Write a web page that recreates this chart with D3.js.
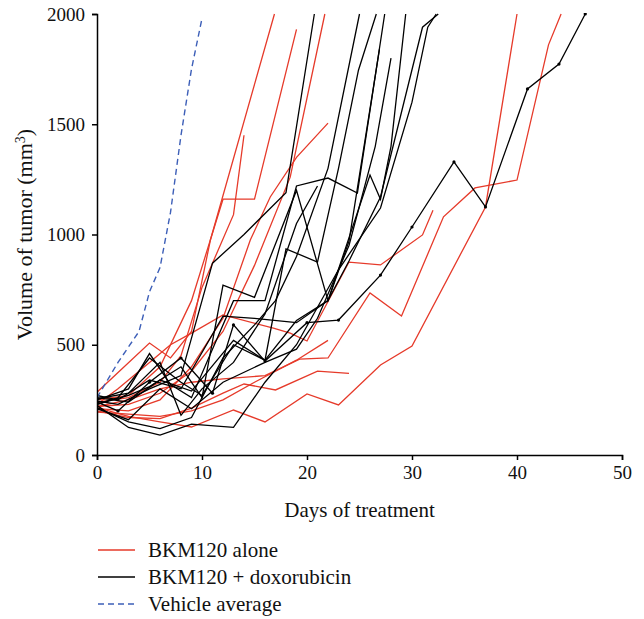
<!DOCTYPE html>
<html>
<head>
<meta charset="utf-8">
<script src="https://cdn.jsdelivr.net/npm/d3@7"></script>
<style>
  body { margin: 0; background: #fff; }
  text { font-family: "Liberation Serif", "DejaVu Serif", serif; fill: #111; }
</style>
</head>
<body>
<div id="chart"></div>
<script>
// values: [day, volume mm3]
var redSeries = [
  [[0,230],[2,300],[5,420],[7,500],[9,553],[12,635],[16.8,575],[18.4,553],[20,517],[24,875],[27,862],[31,998],[32,1110]],
  [[0,220],[3,250],[6,300],[9,330],[12,345],[16,360],[19.3,435],[22,440],[26,735],[29,630],[33,1080],[36,1211],[40,1247],[43,1860],[44.2,2000]],
  [[0,200],[3,170],[6,165],[9,213],[12,281],[14,322],[17,295],[21,380],[24,370]],
  [[0,215],[3,175],[6,150],[9,127],[13,204],[16,150],[20,277],[23,227],[27,408],[30,494],[37,1125],[40,2000]],
  [[0,210],[3,200],[6,250],[9,400],[12,620],[14.6,975],[16.5,1170],[19,1350],[22,1505]],
  [[0,220],[3,230],[6,280],[9,380],[12,560],[15,860],[18.4,1260],[21.7,2000]],
  [[0,285],[5,508],[7,440],[9,560],[10.8,975],[16.9,2000]],
  [[0,250],[3,270],[6,400],[9,700],[12,1160],[15,1160],[19,1930]],
  [[0,240],[3,260],[6,330],[8,450],[10,760],[13,1090],[14,1450]],
  [[0,195],[3,185],[6,175],[9,200],[12,250],[15,330],[19,430],[22,520]]
];
var blackSeries = [
  [[0,245],[2,230],[5,300],[8,360],[10,700],[11,870],[14,1000],[18,1190],[20.7,2000]],
  [[0,215],[3,150],[6,120],[9,170],[12,440],[15,590],[17,700],[19,900],[22,1300],[25,2000]],
  [[0,230],[2,260],[5,440],[8,330],[10,270],[13,500],[16,430],[18,935],[21,875],[23,1300],[24.9,1745],[26.6,2000]],
  [[0,250],[3,300],[5,460],[7,320],[9,260],[13,700],[16,700],[19,1220],[22,1256],[24.8,1188],[27.4,2000]],
  [[0,260],[3,240],[6,340],[9,290],[13,520],[16,430],[19,610],[22,700],[26,1270],[27,1160],[28,1400],[29.4,2000]],
  [[0,240],[2,200],[5,330],[8,440],[11,280],[13,590],[16,426],[20,600],[23,612],[27,816],[30,1034],[34,1329],[37,1125],[41,1660],[44,1773],[46.5,2000]],
  [[0,225],[3,125],[6,90],[9,140],[13,125],[16,330],[19,500],[23,840],[27,1120],[30,1600],[31.5,1940],[32.3,2000]],
  [[0,230],[3,270],[5,310],[8,400],[10,260],[12,770],[15,715],[19,1200],[22,700],[24,970],[26.9,1840]],
  [[0,270],[2,250],[5,340],[8,300],[12,630],[15,620],[19,600],[22,700],[24,880],[27,1170],[31,1940],[32.5,2000]],
  [[0,210],[3,160],[6,300],[9,210],[12,330],[16,420],[19,480],[21,620],[24,950],[26.5,1400],[28,1800]],
  [[0,255],[3,280],[6,420],[8,180],[10,300],[13,420],[16,640],[19,1050],[21,1220]]
];
var vehicleAvg = [[0,260],[2,420],[4,560],[5,740],[6,850],[7,1100],[8,1450],[9,1750],[10,1980]];
var dotSeries = [5];            // black series drawn with point markers
var xTicks = [0, 10, 20, 30, 40, 50];
var yTicks = [0, 500, 1000, 1500, 2000];
var legendLabels = ["BKM120 alone", "BKM120 + doxorubicin", "Vehicle average"];

var width = 644, height = 619;
var margin = {left: 97, top: 14, right: 22, bottom: 164};

var svg = d3.select("#chart").append("svg")
  .attr("width", width)
  .attr("height", height);

var x = d3.scaleLinear().domain([0, 50]).range([margin.left, width - margin.right]);
var y = d3.scaleLinear().domain([0, 2000]).range([height - margin.bottom, margin.top]);

svg.append("clipPath").attr("id", "plot")
  .append("rect")
  .attr("x", margin.left).attr("y", margin.top - 1)
  .attr("width", width - margin.left - margin.right + 2)
  .attr("height", height - margin.top - margin.bottom + 1);

var line = d3.line()
  .x(function(d) { return x(d[0]); })
  .y(function(d) { return y(d[1]); });

var g = svg.append("g").attr("clip-path", "url(#plot)");

g.selectAll(".red").data(redSeries).enter().append("path")
  .attr("class", "red")
  .attr("d", line)
  .attr("fill", "none")
  .attr("stroke", "#e63a2a")
  .attr("stroke-width", 1.3);

g.selectAll(".black").data(blackSeries).enter().append("path")
  .attr("class", "black")
  .attr("d", line)
  .attr("fill", "none")
  .attr("stroke", "#000")
  .attr("stroke-width", 1.3);

dotSeries.forEach(function(i) {
  g.selectAll(".dot" + i).data(blackSeries[i]).enter().append("circle")
    .attr("cx", function(d) { return x(d[0]); })
    .attr("cy", function(d) { return y(d[1]); })
    .attr("r", 1.6)
    .attr("fill", "#000");
});

g.append("path")
  .datum(vehicleAvg)
  .attr("d", line)
  .attr("fill", "none")
  .attr("stroke", "#3d5fb8")
  .attr("stroke-width", 1.4)
  .attr("stroke-dasharray", "6,4");

// axes
var xAxis = svg.append("g")
  .attr("transform", "translate(0," + y(0) + ")")
  .call(d3.axisBottom(x).tickValues(xTicks).tickSize(5).tickPadding(6));
var yAxis = svg.append("g")
  .attr("transform", "translate(" + x(0) + ",0)")
  .call(d3.axisLeft(y).tickValues(yTicks).tickFormat(d3.format("d")).tickSize(5).tickPadding(7));

[xAxis, yAxis].forEach(function(a) {
  a.select(".domain").attr("stroke", "#000").attr("stroke-width", 1.5);
  a.selectAll(".tick line").attr("stroke", "#000").attr("stroke-width", 1.5);
  a.selectAll(".tick text")
    .style("font-family", "'Liberation Serif', serif")
    .style("font-size", "19px")
    .attr("fill", "#111");
});

svg.append("text")
  .attr("x", (x(0) + x(50)) / 2)
  .attr("y", 517)
  .attr("text-anchor", "middle")
  .style("font-size", "21px")
  .text("Days of treatment");

var yl = svg.append("text")
  .attr("transform", "translate(32," + y(1000) + ") rotate(-90)")
  .attr("text-anchor", "middle")
  .style("font-size", "22px");
yl.append("tspan").text("Volume of tumor (mm");
yl.append("tspan").attr("baseline-shift", "super").style("font-size", "14px").text("3");
yl.append("tspan").text(")");

// legend
var legendColors = ["#e63a2a", "#000", "#3d5fb8"];
var legendDash = [null, null, "6,4"];
var lg = svg.selectAll(".leg").data(legendLabels).enter().append("g")
  .attr("transform", function(d, i) { return "translate(98," + (550 + i * 27) + ")"; });
lg.append("line")
  .attr("x1", 0).attr("x2", 37)
  .attr("stroke", function(d, i) { return legendColors[i]; })
  .attr("stroke-width", 1.3)
  .attr("stroke-dasharray", function(d, i) { return legendDash[i]; });
lg.append("text")
  .attr("x", 50).attr("y", 7)
  .style("font-size", "21px")
  .text(function(d) { return d; });
</script>
</body>
</html>
